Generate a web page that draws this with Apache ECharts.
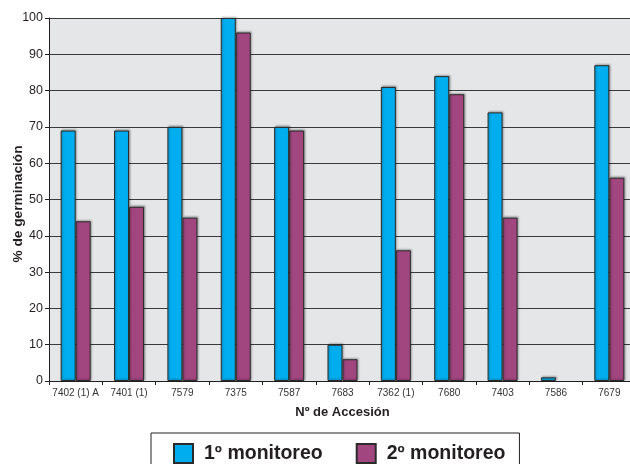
<!DOCTYPE html>
<html>
<head>
<meta charset="utf-8">
<script src="https://cdn.jsdelivr.net/npm/echarts@6/dist/echarts.min.js"></script>
<style>
  html, body { margin: 0; padding: 0; background: #fff; }
  #chart { width: 630px; height: 464px; }
</style>
</head>
<body>
<div id="chart"></div>
<script>
// Germination percentage per accession, two monitoring rounds
const accessions = ['7402 (1) A', '7401 (1)', '7579', '7375', '7587', '7683', '7362 (1)', '7680', '7403', '7586', '7679'];
const monitoreo1 = [69, 69, 70, 100, 70, 10, 81, 84, 74, 1, 87];
const monitoreo2 = [44, 48, 45, 96, 69, 6, 36, 79, 45, 0, 56];
const yTicks = [0, 10, 20, 30, 40, 50, 60, 70, 80, 90, 100];

const FONT = '"Liberation Sans", Arial, sans-serif';
const barStyle = (color) => ({
  color: color,
  borderColor: '#2b2b2b',
  borderWidth: 1,
  shadowColor: 'rgba(0,0,0,0.3)',
  shadowBlur: 2,
  shadowOffsetX: 1,
  shadowOffsetY: -1
});
// a zero value leaves no visible bar (no outline stroke)
const toItems = (values) => values.map(v => v === 0 ? { value: v, itemStyle: { borderWidth: 0, shadowBlur: 0, shadowColor: 'transparent' } } : v);

const chart = echarts.init(document.getElementById('chart'), null, { renderer: 'canvas' });
chart.setOption({
  animation: false,
  backgroundColor: '#ffffff',
  textStyle: { fontFamily: FONT },
  grid: {
    left: 49, right: -6, top: 18, bottom: 83,
    containLabel: false,
    outerBoundsMode: 'none',
    show: true, backgroundColor: '#e5e6e8', borderWidth: 0
  },
  legend: {
    left: 151, top: 433,
    padding: [10, 14, 12, 22],
    itemGap: 33,
    itemWidth: 19, itemHeight: 19,
    icon: 'rect',
    backgroundColor: '#ffffff',
    borderColor: '#231f20', borderWidth: 1,
    textStyle: { fontFamily: FONT, fontSize: 19.5, fontWeight: 'bold', color: '#231f20', padding: [0, 0, 0, 6] },
    data: ['1º monitoreo', '2º monitoreo']
  },
  xAxis: {
    type: 'category',
    data: accessions,
    name: 'Nº de Accesión',
    nameLocation: 'middle',
    nameGap: 25,
    nameTextStyle: { fontFamily: FONT, fontSize: 13, fontWeight: 'bold', color: '#231f20' },
    axisLine: { lineStyle: { color: '#231f20', width: 1 } },
    axisTick: { show: true, length: 4, lineStyle: { color: '#231f20' } },
    axisLabel: { fontFamily: FONT, fontSize: 10, color: '#333', margin: 7, interval: 0 }
  },
  yAxis: {
    type: 'value',
    min: yTicks[0], max: yTicks[yTicks.length - 1], interval: 10,
    name: '% de germinación',
    nameLocation: 'middle',
    nameGap: 24,
    nameMoveOverlap: false,
    nameTextStyle: { fontFamily: FONT, fontSize: 13.7, fontWeight: 'bold', color: '#231f20', padding: [0, 9, 0, 0] },
    axisLine: { show: true, lineStyle: { color: '#231f20', width: 1 } },
    axisTick: { show: true, length: 4, lineStyle: { color: '#231f20' } },
    axisLabel: { fontFamily: FONT, fontSize: 12.5, color: '#231f20', margin: 6 },
    splitLine: { show: true, lineStyle: { color: '#3a3a3a', width: 1 } }
  },
  series: [
    {
      name: '1º monitoreo', type: 'bar', data: toItems(monitoreo1),
      barWidth: 15, barGap: '0%',
      itemStyle: barStyle('#00aeef')
    },
    {
      name: '2º monitoreo', type: 'bar', data: toItems(monitoreo2),
      barWidth: 15, barGap: '0%',
      itemStyle: barStyle('#a2467f')
    }
  ]
});
</script>
</body>
</html>
